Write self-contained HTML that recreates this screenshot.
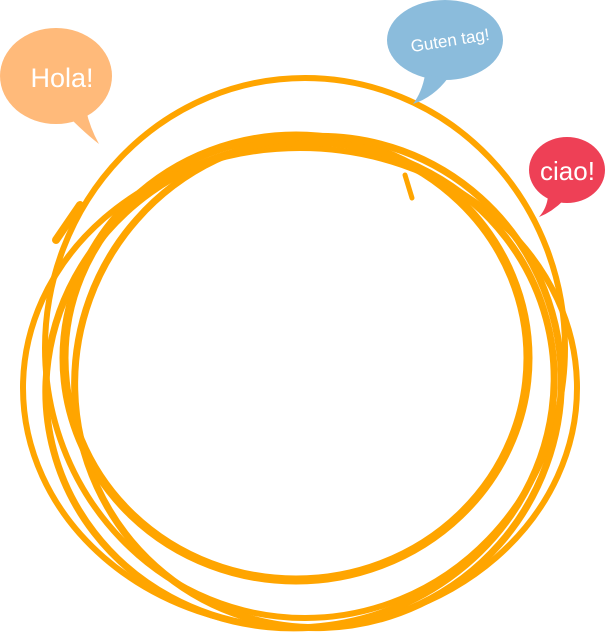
<!DOCTYPE html>
<html><head><meta charset="utf-8"><style>
html,body{margin:0;padding:0;background:#fff;width:607px;height:633px;overflow:hidden}
svg{display:block}
text{font-family:"Liberation Sans",sans-serif;fill:#fff}
</style></head><body>
<svg width="607" height="633" viewBox="0 0 607 633">
<g fill="none" stroke="#FFA500" stroke-linecap="round">
<ellipse cx="296" cy="358" rx="232" ry="222" stroke-width="9"/>
<ellipse cx="305" cy="348" rx="260" ry="270" stroke-width="6"/>
<ellipse cx="300" cy="388" rx="277" ry="240" stroke-width="6"/>
<ellipse cx="300" cy="385" rx="255" ry="242" transform="rotate(-15 300 385)" stroke-width="7"/>
<ellipse cx="318" cy="382" rx="243" ry="246" transform="rotate(20 318 382)" stroke-width="7"/>
<path d="M56 240 L80 205" stroke-width="8"/>
<path d="M405 175 L412 198" stroke-width="5"/>
</g>
<ellipse cx="56" cy="76" rx="56" ry="48" fill="#FFBA7A"/>
<path d="M70 118 Q86 134 99 144 Q90 128 86 110Z" fill="#FFBA7A"/>
<text x="62" y="87" font-size="27" text-anchor="middle">Hola!</text>
<ellipse cx="445" cy="40" rx="58" ry="40" fill="#8BBCDC"/>
<path d="M425 75 Q422 92 413 104 Q434 97 448 78Z" fill="#8BBCDC"/>
<text x="450" y="46" font-size="17" text-anchor="middle" transform="rotate(-9 450 40)">Guten tag!</text>
<ellipse cx="567" cy="170" rx="38" ry="33" fill="#EE4056"/>
<path d="M548 196 Q547 208 539 217 Q552 212 564 200Z" fill="#EE4056"/>
<text x="540" y="180" font-size="26">ciao!</text>
</svg>
</body></html>
